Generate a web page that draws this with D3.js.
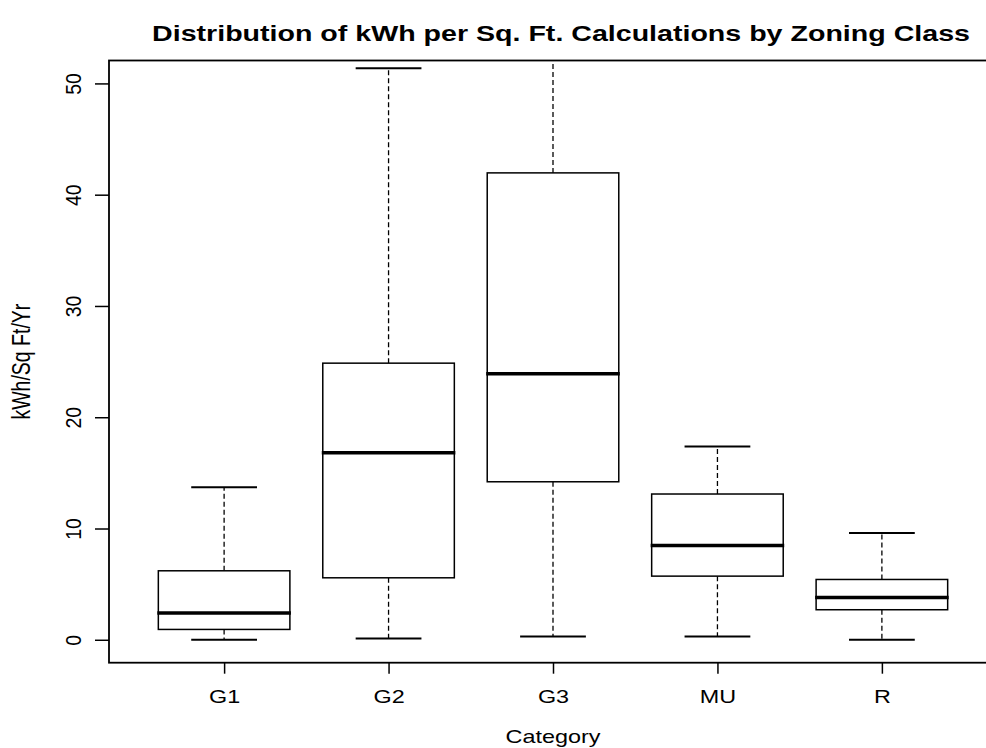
<html><head>
<title>Distribution of kWh per Sq. Ft. Calculations by Zoning Class</title>
<script src="https://d3js.org/d3.v7.min.js"></script>
<style>
  body { margin: 0; background: #fff; }
  svg { display: block; overflow: hidden; }
  text { font-family: "Liberation Sans", Arial, Helvetica, sans-serif; fill: #000; }
</style>
</head>
<body>
<svg id="plot" width="986" height="748"></svg>

<script>

  // ---- data ----
  const categories = ["G1", "G2", "G3", "MU", "R"];
  const lowWhisker = [0.0, 0.12, 0.3, 0.3, 0.0];
  const lowerQuartile = [0.93, 5.57, 14.2, 5.72, 2.7];
  const medians = [2.4, 16.8, 23.9, 8.47, 3.8];
  const upperQuartile = [6.2, 24.86, 41.96, 13.1, 5.42];
  const highWhisker = [13.7, 51.36, 56.0, 17.37, 9.6];   // G3 runs off the top of the plot
  const yTicks = [0, 10, 20, 30, 40, 50];

  const boxes = categories.map((c, i) => ({
    cat: c, pos: i + 1,
    lo: lowWhisker[i], q1: lowerQuartile[i], med: medians[i],
    q3: upperQuartile[i], hi: highWhisker[i]
  }));

  const svg = d3.select("svg#plot");
  const plot = {left: 109, right: 997, top: 60.5, bottom: 662.7};
  const stretch = 1.3;   // the original image is wider than tall, text is stretched sideways

  // R style: x from 0.5 to n+0.5, padded by 4%
  const x = d3.scaleLinear().domain([0.3, 5.7]).range([plot.left, plot.right]);
  const y = d3.scaleLinear().domain([-2.06, 52.06]).range([plot.bottom, plot.top]);

  const boxHalf = (x(1.4) - x(1)) ;      // box width 0.8
  const capHalf = boxHalf / 2;

  svg.append("clipPath").attr("id", "clip")
     .append("rect")
     .attr("x", plot.left).attr("y", plot.top)
     .attr("width", plot.right - plot.left).attr("height", plot.bottom - plot.top);

  let chart = svg.append("g").attr("clip-path", "url(#clip)");

  let g = chart.selectAll("g.box").data(boxes).join("g").attr("class", "box");

  // dashed whiskers
  g.append("line")
   .attr("x1", d => x(d.pos)).attr("x2", d => x(d.pos))
   .attr("y1", d => y(d.q3)).attr("y2", d => y(d.hi))
   .attr("stroke", "#000").attr("stroke-width", 1.3).attr("stroke-dasharray", "5,3");
  g.append("line")
   .attr("x1", d => x(d.pos)).attr("x2", d => x(d.pos))
   .attr("y1", d => y(d.q1)).attr("y2", d => y(d.lo))
   .attr("stroke", "#000").attr("stroke-width", 1.3).attr("stroke-dasharray", "5,3");

  // staples
  g.append("line")
   .attr("x1", d => x(d.pos) - capHalf).attr("x2", d => x(d.pos) + capHalf)
   .attr("y1", d => y(d.hi)).attr("y2", d => y(d.hi))
   .attr("stroke", "#000").attr("stroke-width", 2);
  g.append("line")
   .attr("x1", d => x(d.pos) - capHalf).attr("x2", d => x(d.pos) + capHalf)
   .attr("y1", d => y(d.lo)).attr("y2", d => y(d.lo))
   .attr("stroke", "#000").attr("stroke-width", 2);

  // boxes
  g.append("rect")
   .attr("x", d => x(d.pos) - boxHalf)
   .attr("width", boxHalf * 2)
   .attr("y", d => y(d.q3))
   .attr("height", d => y(d.q1) - y(d.q3))
   .attr("fill", "#fff").attr("stroke", "#000").attr("stroke-width", 1.5);

  // medians
  g.append("line")
   .attr("x1", d => x(d.pos) - boxHalf - 1).attr("x2", d => x(d.pos) + boxHalf + 1)
   .attr("y1", d => y(d.med)).attr("y2", d => y(d.med))
   .attr("stroke", "#000").attr("stroke-width", 3.5);

  // plot frame
  svg.append("rect")
     .attr("x", plot.left).attr("y", plot.top)
     .attr("width", plot.right - plot.left).attr("height", plot.bottom - plot.top)
     .attr("fill", "none").attr("stroke", "#000").attr("stroke-width", 1.8);

  // y axis, labels turned like R's las=0
  let yAxis = svg.append("g")
     .attr("transform", "translate(" + plot.left + ",0)")
     .call(d3.axisLeft(y).tickValues(yTicks).tickSize(14).tickFormat(d3.format("d")));
  yAxis.select(".domain").remove();
  yAxis.selectAll(".tick line").attr("stroke", "#000").attr("stroke-width", 1.5);
  yAxis.selectAll(".tick text")
     .attr("x", null).attr("dy", null)
     .attr("text-anchor", "middle")
     .attr("transform", "translate(-28,0) rotate(-90) scale(1,1.1)")
     .style("font-size", "19.5px");

  // x axis
  let xAxis = svg.append("g")
     .attr("transform", "translate(0," + plot.bottom + ")")
     .call(d3.axisBottom(x).tickValues(boxes.map(d => d.pos)).tickSize(11)
             .tickFormat(d => categories[d - 1]));
  xAxis.select(".domain").remove();
  xAxis.selectAll(".tick line").attr("stroke", "#000").attr("stroke-width", 1.5);
  xAxis.selectAll(".tick text")
     .attr("y", null).attr("dy", null)
     .attr("transform", "translate(0,40.6) scale(" + stretch + ",1)")
     .style("font-size", "18px");

  // titles
  svg.append("text")
     .attr("transform", "translate(561,41) scale(" + stretch + ",1)")
     .attr("text-anchor", "middle")
     .style("font-size", "22px").style("font-weight", "bold")
     .text("Distribution of kWh per Sq. Ft. Calculations by Zoning Class");

  svg.append("text")
     .attr("transform", "translate(" + x(3) + ",743) scale(" + stretch + ",1)")
     .attr("text-anchor", "middle")
     .style("font-size", "18px")
     .text("Category");

  svg.append("text")
     .attr("transform", "translate(30," + ((plot.top + plot.bottom) / 2) + ") rotate(-90) scale(1," + stretch + ")")
     .attr("text-anchor", "middle")
     .style("font-size", "19.5px")
     .text("kWh/Sq Ft/Yr");

</script>
</body>
</html>
